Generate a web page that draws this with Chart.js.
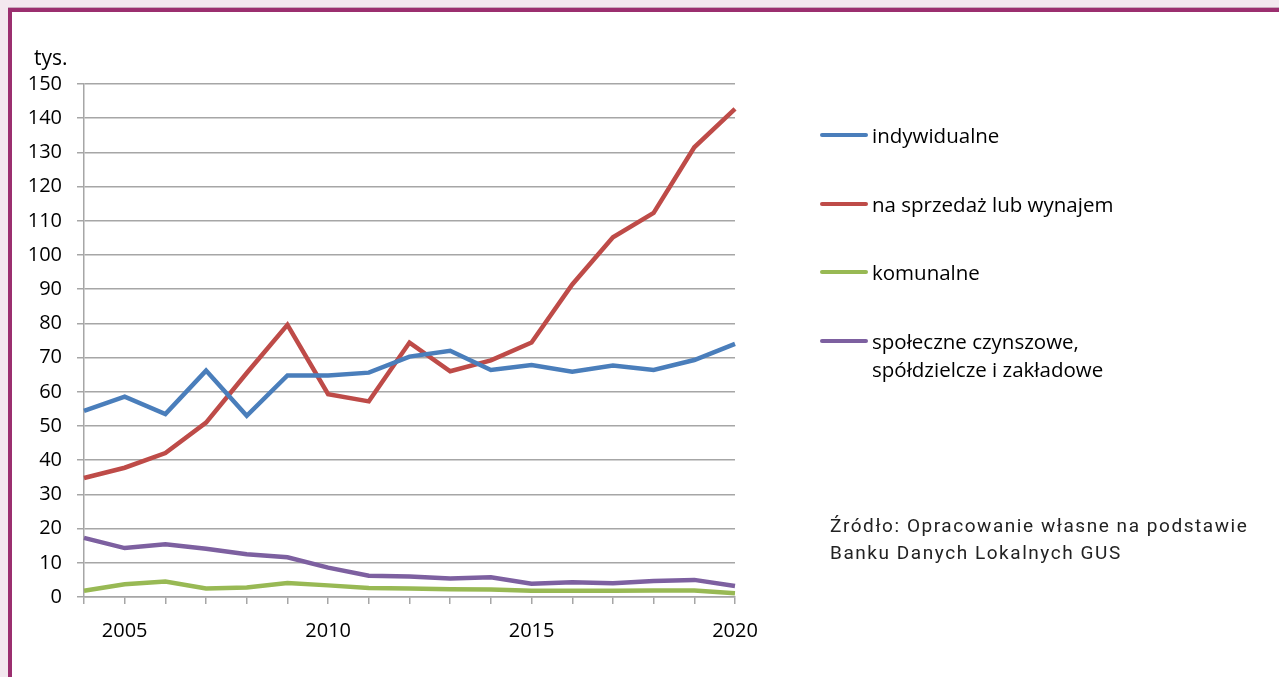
<!DOCTYPE html>
<html>
<head>
<meta charset="utf-8">
<script src="https://cdn.jsdelivr.net/npm/chart.js@4.4.1/dist/chart.umd.min.js"></script>
<style>
  html, body { margin: 0; padding: 0; background: #fff; }
  body { width: 1279px; height: 677px; position: relative; overflow: hidden; }
  .band-top { position: absolute; left: 0; top: 0; width: 1279px; height: 7px; background: #f3e8ef; border-bottom: 1px solid #c9a9bd; }
  .band-left { position: absolute; left: 0; top: 0; width: 8px; height: 677px; background: #f3e8ef; }
  .frame-top { position: absolute; left: 8px; top: 8px; width: 1271px; height: 4px; background: #9b2f6f; }
  .frame-left { position: absolute; left: 8px; top: 8px; width: 4px; height: 669px; background: #9b2f6f; }
  #wrap { position: absolute; left: 0; top: 0; width: 1279px; height: 677px; }
  .unit { position: absolute; left: 34px; top: 43px; font: 21px "Open Sans", sans-serif; color: #000; }
  .legend { position: absolute; left: 820px; top: 0; font: 20.5px "Open Sans", sans-serif; color: #000; }
  .legend .item { position: absolute; left: 0; white-space: nowrap; line-height: 28px; }
  .legend .swatch { position: absolute; left: 0; top: 12px; width: 48px; height: 4px; border-radius: 2px; }
  .legend .text { position: absolute; left: 52px; top: 0; }
  .source { position: absolute; left: 830px; top: 512px; font: 19px Roboto, sans-serif; color: #222; line-height: 27px; letter-spacing: 1.55px; }
</style>
</head>
<body>
<div class="band-top"></div>
<div class="band-left"></div>
<div class="frame-top"></div>
<div class="frame-left"></div>
<div id="wrap"><canvas id="myChart" width="1279" height="677"></canvas></div>
<div class="unit">tys.</div>
<div class="legend" id="legend"></div>
<div class="source">Źródło: Opracowanie własne na podstawie<br>Banku Danych Lokalnych GUS</div>
<script>
const years = ['2004', '2005', '2006', '2007', '2008', '2009', '2010', '2011', '2012',
  '2013', '2014', '2015', '2016', '2017', '2018', '2019', '2020'];

const indywidualne = [54.4, 58.6, 53.5, 66.2, 53.0, 64.8, 64.8, 65.6, 70.3, 72.0, 66.4, 67.8, 65.9, 67.7, 66.4, 69.3, 74.0];
const naSprzedaz = [34.8, 37.8, 42.1, 51.0, 65.5, 79.6, 59.3, 57.2, 74.4, 66.0, 69.2, 74.4, 91.4, 105.2, 112.3, 131.5, 142.7];
const komunalne = [1.8, 3.7, 4.5, 2.5, 2.8, 4.1, 3.4, 2.6, 2.5, 2.3, 2.2, 1.8, 1.8, 1.8, 1.9, 1.9, 1.1];
const spoleczne = [17.3, 14.3, 15.4, 14.1, 12.5, 11.6, 8.6, 6.2, 6.0, 5.4, 5.8, 3.9, 4.3, 4.0, 4.7, 5.0, 3.2];

const seriesNames = ['indywidualne', 'na sprzedaż lub wynajem', 'komunalne', 'społeczne czynszowe,\nspółdzielcze i zakładowe'];
const seriesColors = ['#4a7ebb', '#be4b48', '#98b954', '#7d60a0'];
const yTicks = [0, 10, 20, 30, 40, 50, 60, 70, 80, 90, 100, 110, 120, 130, 140, 150];
const shownYears = ['2005', '2010', '2015', '2020'];

const gridColor = '#a6a6a6';
const tickFont = { family: '"Open Sans", sans-serif', size: 20 };

const ctx = document.getElementById('myChart').getContext('2d');

const chart = new Chart(ctx, {
  type: 'line',
  data: {
    labels: years,
    datasets: [indywidualne, naSprzedaz, komunalne, spoleczne].map((values, i) => ({
      label: seriesNames[i],
      data: values,
      borderColor: seriesColors[i],
      backgroundColor: seriesColors[i],
      borderWidth: 4.5,
      pointRadius: 0,
      tension: 0,
      fill: false,
    })),
  },
  options: {
    responsive: false,
    animation: false,
    layout: {
      padding: { left: 0, right: 544, top: 84, bottom: 0 },
    },
    scales: {
      x: {
        offset: false,
        grid: {
          drawOnChartArea: false,
          drawTicks: true,
          tickLength: 7,
          color: gridColor,
          lineWidth: 1.5,
        },
        border: { color: gridColor, width: 1.5 },
        ticks: {
          autoSkip: false,
          maxRotation: 0,
          padding: 15,
          color: '#000',
          font: tickFont,
          callback: function (value) {
            const year = this.getLabelForValue(value);
            return shownYears.includes(year) ? year : '';
          },
        },
        afterFit: (scale) => { scale.height = 80; },
      },
      y: {
        min: 0,
        max: 150,
        afterBuildTicks: (scale) => { scale.ticks = yTicks.map((v) => ({ value: v })); },
        grid: {
          color: gridColor,
          lineWidth: 1.5,
          tickLength: 7,
        },
        border: { color: gridColor, width: 1.5 },
        ticks: {
          padding: 15,
          color: '#000',
          font: tickFont,
        },
        afterFit: (scale) => { scale.width = 84; },
      },
    },
    plugins: {
      legend: { display: false },
      tooltip: { enabled: false },
    },
  },
});

// legend on the right, built from the datasets
const legendTops = [121, 190, 258, 327];
const legendBox = document.getElementById('legend');
chart.data.datasets.forEach((ds, i) => {
  const item = document.createElement('div');
  item.className = 'item';
  item.style.top = legendTops[i] + 'px';
  const swatch = document.createElement('div');
  swatch.className = 'swatch';
  swatch.style.background = ds.borderColor;
  const text = document.createElement('div');
  text.className = 'text';
  text.innerHTML = ds.label.split('\n').join('<br>');
  item.appendChild(swatch);
  item.appendChild(text);
  legendBox.appendChild(item);
});
</script>
</body>
</html>
